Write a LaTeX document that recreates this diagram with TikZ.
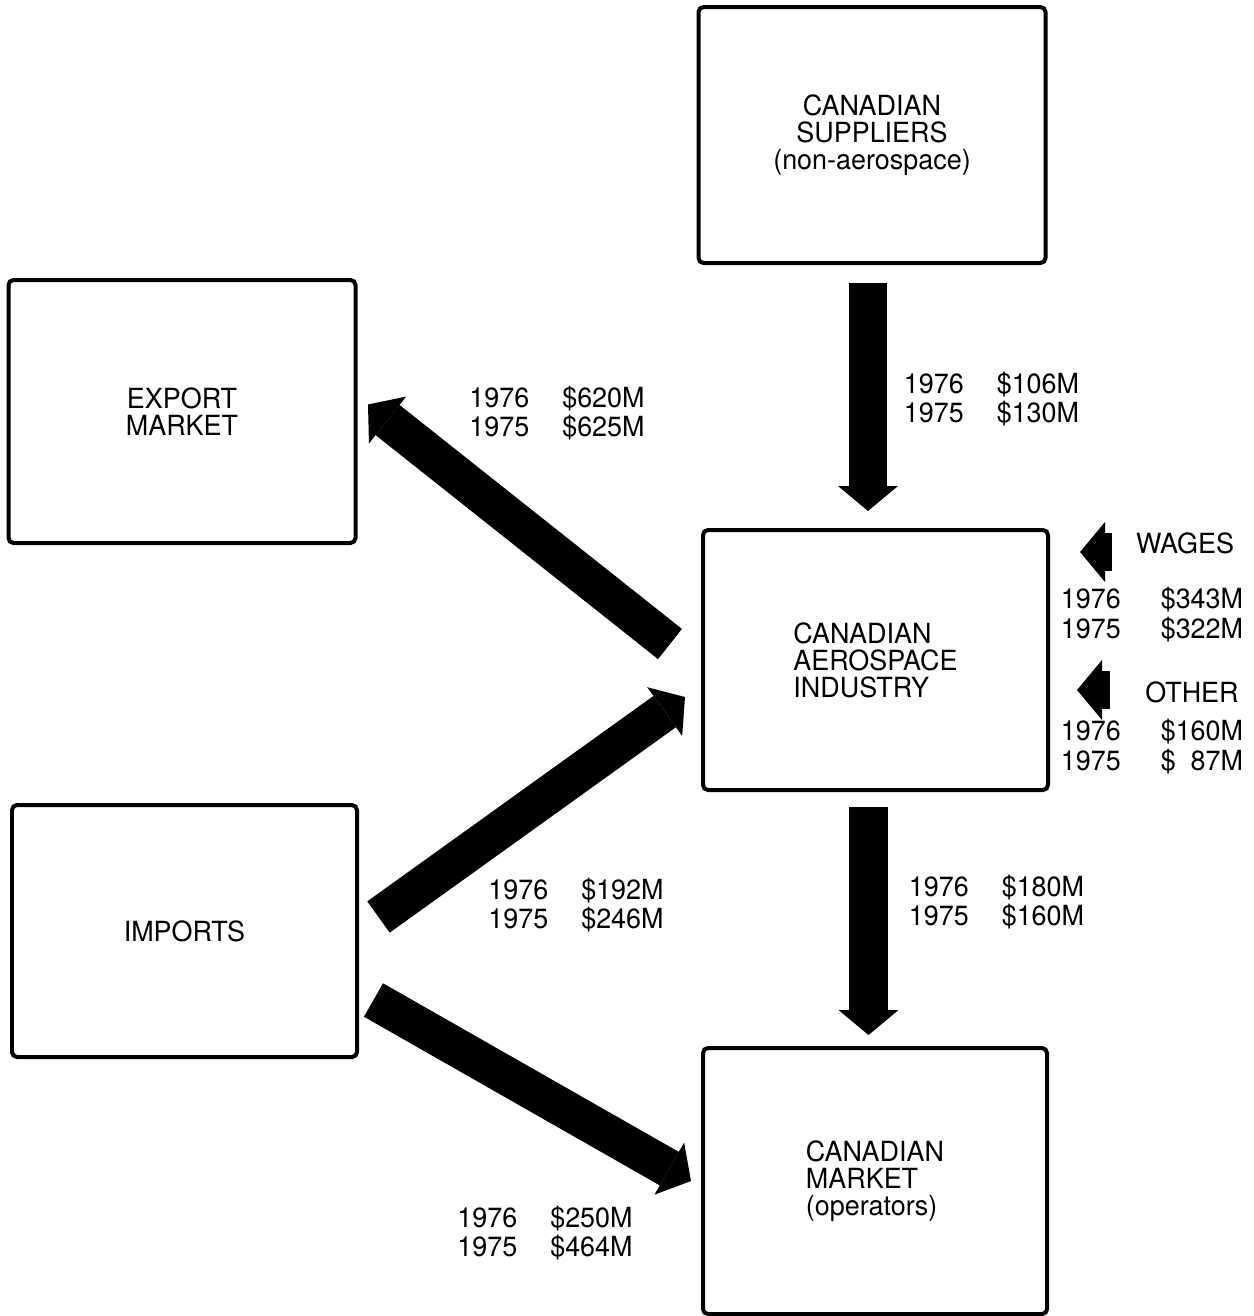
\documentclass[tikz,border=0pt]{standalone}
\usepackage{fontspec}
\setmainfont{TeX Gyre Heros}[FakeStretch=0.97]
\usepackage{tikz}
\usetikzlibrary{calc,positioning}
\usetikzlibrary{arrows.meta}

\begin{document}
\begin{tikzpicture}
        \useasboundingbox (0,0) rectangle (12.54,-13.16);
        \tikzstyle{box} = [draw=black, line width=0.04cm, rounded corners=0.05cm, inner sep=0pt,
          font=\fontsize{7.9}{7.7}\selectfont]
        \tikzstyle{val} = [inner sep=0pt, align=left, font=\fontsize{7.9}{8.25}\selectfont]
        \tikzstyle{flow} = [line width=0.385cm,
          -{Triangle[width=0.6cm, length=0.25cm, line width=0pt]}]

        % boxes
        \node[box, minimum width=3.47cm, minimum height=2.56cm, align=center] (sup) at (8.72,-1.35)
          {CANADIAN\\SUPPLIERS\\(non-aerospace)};
        \node[box, minimum width=3.47cm, minimum height=2.63cm, align=center] (export) at (1.82,-4.115)
          {EXPORT\\MARKET};
        \node[box, minimum width=3.45cm, minimum height=2.60cm, align=left] (aero) at (8.755,-6.60)
          {CANADIAN\\AEROSPACE\\INDUSTRY};
        \node[box, minimum width=3.45cm, minimum height=2.52cm] (imports) at (1.845,-9.31)
          {IMPORTS};
        \node[box, minimum width=3.44cm, minimum height=2.66cm, align=left] (market) at (8.75,-11.81)
          {CANADIAN\\MARKET\\(operators)};

        % flows
        \draw[flow, shorten <=0.18cm, shorten >=0.17cm] ([xshift=-0.04cm]sup.south) -- ([xshift=-0.04cm]sup.south |- aero.north);
        \draw[flow, shorten <=0.15cm, shorten >=0.11cm] ([xshift=-0.07cm]aero.south) -- ([xshift=-0.07cm]aero.south |- market.north);
        \draw[flow] ([shift={(-0.31,0.16)}]aero.west) -- ([shift={(0.105,0.07)}]export.east);
        \draw[flow] ([shift={(0.195,0.14)}]imports.east) -- ([shift={(-0.16,-0.37)}]aero.west);
        \draw[flow] ([shift={(0.145,-0.69)}]imports.east) -- ([shift={(-0.10,0.0)}]market.west);

        % other inputs
        \coordinate (wtail) at (11.12,-5.52);
        \coordinate (wtip) at (10.80,-5.52);
        \coordinate (otail) at (11.10,-6.90);
        \coordinate (otip) at (10.77,-6.90);
        \draw[flow] (wtail) -- (wtip);
        \draw[flow] (otail) -- (otip);

        \node[val] (wages) at (11.85,-5.43) {WAGES};
        \node[val] (other) at (11.92,-6.92) {OTHER};

        % values
        \node[val] (v-exp) at (5.57,-4.13) {1976\hspace{0.33cm}\$620M\\1975\hspace{0.33cm}\$625M};
        \node[val] (v-sup) at (9.915,-3.99) {1976\hspace{0.33cm}\$106M\\1975\hspace{0.33cm}\$130M};
        \node[val] (v-imp) at (5.76,-9.05) {1976\hspace{0.33cm}\$192M\\1975\hspace{0.33cm}\$246M};
        \node[val] (v-mkt) at (9.965,-9.02) {1976\hspace{0.33cm}\$180M\\1975\hspace{0.33cm}\$160M};
        \node[val] (v-ops) at (5.45,-12.33) {1976\hspace{0.33cm}\$250M\\1975\hspace{0.33cm}\$464M};
        \node[val] (v-wages) at (11.52,-6.17)
          {\begin{tabular}{@{}l@{\hspace{0.4cm}}r@{}}1976 & \$343M\\1975 & \$322M\end{tabular}};
        \node[val] (v-other) at (11.52,-7.49)
          {\begin{tabular}{@{}l@{\hspace{0.4cm}}r@{}}1976 & \$160M\\1975 & \$\phantom{0}87M\end{tabular}};
\end{tikzpicture}
\end{document}
